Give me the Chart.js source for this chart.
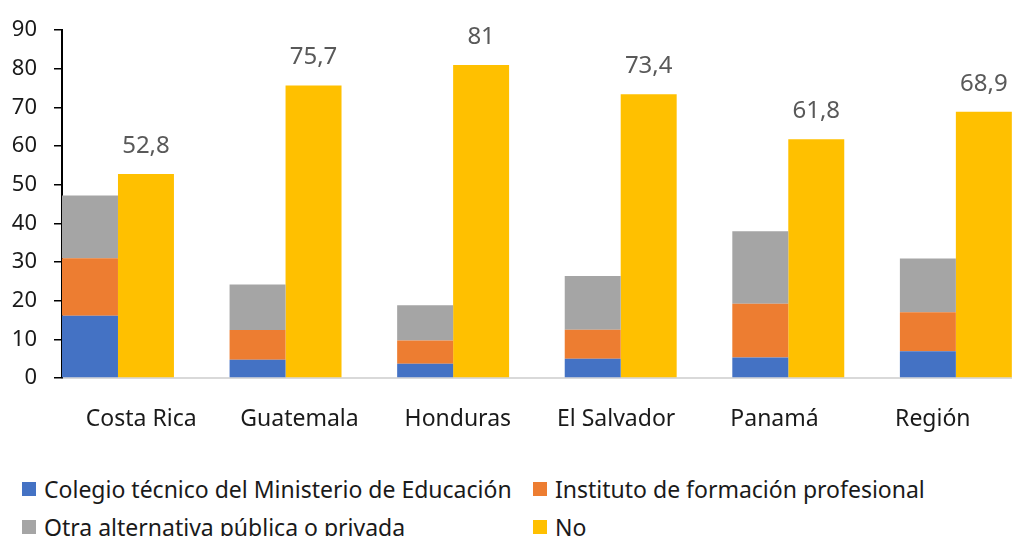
<!DOCTYPE html>
<html>
<head>
<meta charset="utf-8">
<script src="https://cdn.jsdelivr.net/npm/chart.js@4.4.1/dist/chart.umd.min.js"></script>
<style>
    html, body { margin: 0; padding: 0; background: #fff; overflow: hidden; }
    #wrap { position: relative; width: 1012px; height: 536px; }
    #chart-box { position: absolute; left: 0; top: 0; width: 1012px; height: 460px; }
    .legend-item {
        position: absolute; display: flex; align-items: center; height: 28px;
        font: 23px "Noto Sans", sans-serif; color: #1a1a1a; white-space: nowrap;
    }
    .legend-item .sw { width: 14px; height: 14px; margin-right: 8px; }
</style>
</head>
<body>
<div id="wrap">
    <div id="chart-box"><canvas id="mainChart"></canvas></div>
    <div id="legend"></div>
</div>
<script>
const countries = ['Costa Rica', 'Guatemala', 'Honduras', 'El Salvador', 'Panamá', 'Región'];
const colegioTecnico = [16.1, 4.7, 3.7, 5.0, 5.3, 6.9];
const institutoFormacion = [14.9, 7.7, 6.0, 7.5, 13.9, 10.1];
const otraAlternativa = [16.2, 11.8, 9.1, 13.9, 18.8, 13.9];
const noAsiste = [52.8, 75.7, 81, 73.4, 61.8, 68.9];
const yTicks = [0, 10, 20, 30, 40, 50, 60, 70, 80, 90];

const seriesNames = [
    'Colegio técnico del Ministerio de Educación',
    'Instituto de formación profesional',
    'Otra alternativa pública o privada',
    'No'
];
const seriesColors = ['#4472C4', '#ED7D31', '#A5A5A5', '#FFC000'];

const FONT = '"Noto Sans", sans-serif';

// bars sit on a hidden linear axis (category index as x)
function toPoints(values) {
    return values.map((v, i) => ({ x: i, y: v }));
}

function fmt(v) {
    return String(v).replace('.', ',');
}

// value labels above the "No" bars
const barValueLabels = {
    id: 'barValueLabels',
    afterDatasetsDraw(chart) {
        const idx = chart.data.datasets.findIndex(d => d.showValues);
        if (idx < 0) return;
        const meta = chart.getDatasetMeta(idx);
        const ctx = chart.ctx;
        ctx.save();
        ctx.font = `24px ${FONT}`;
        ctx.fillStyle = '#595959';
        ctx.textAlign = 'center';
        ctx.textBaseline = 'middle';
        meta.data.forEach((bar, i) => {
            ctx.fillText(fmt(noAsiste[i]), bar.x, bar.y - 28);
        });
        ctx.restore();
    }
};

function initChart() {
    const ctx = document.getElementById('mainChart').getContext('2d');
    const stacks = ['si', 'si', 'si', 'no'];
    const values = [colegioTecnico, institutoFormacion, otraAlternativa, noAsiste];

    new Chart(ctx, {
        type: 'bar',
        data: {
            labels: countries,
            datasets: values.map((vals, i) => ({
                label: seriesNames[i],
                data: toPoints(vals),
                backgroundColor: seriesColors[i],
                borderWidth: 0,
                stack: stacks[i],
                xAxisID: 'xb',
                yAxisID: 'y',
                categoryPercentage: 0.668,
                barPercentage: 1,
                showValues: i === 3
            }))
        },
        options: {
            responsive: true,
            maintainAspectRatio: false,
            animation: false,
            layout: { padding: { top: 28, left: 0, right: 0, bottom: 0 } },
            plugins: {
                legend: { display: false },
                tooltip: { enabled: false }
            },
            scales: {
                x: {
                    type: 'category',
                    position: 'bottom',
                    offset: true,
                    grid: { display: false, drawTicks: false },
                    border: { display: true, color: '#d9d9d9', width: 2 },
                    ticks: { color: '#1a1a1a', font: { family: FONT, size: 23 }, padding: 28, maxRotation: 0 },
                    afterFit: s => { s.height = 82; }
                },
                xb: {
                    type: 'linear',
                    display: false,
                    offset: false,
                    bounds: 'data',
                    min: -0.334,
                    max: 5.335,
                    afterBuildTicks: s => { s.ticks = countries.map((c, i) => ({ value: i })); },
                    grid: { offset: false }
                },
                y: {
                    stacked: true,
                    min: 0,
                    max: 90,
                    afterBuildTicks: s => { s.ticks = yTicks.map(v => ({ value: v })); },
                    grid: { drawOnChartArea: false, drawTicks: true, tickLength: 8, color: '#000', lineWidth: 1.5 },
                    border: { display: true, color: '#000', width: 2 },
                    ticks: { color: '#1a1a1a', font: { family: FONT, size: 22 }, padding: 17 },
                    afterFit: s => { s.width = 62; }
                }
            }
        },
        plugins: [barValueLabels]
    });
}

function buildLegend() {
    const box = document.getElementById('legend');
    const cols = [22, 533];
    const rows = [489, 527];
    seriesNames.forEach((name, i) => {
        const item = document.createElement('div');
        item.className = 'legend-item';
        item.style.left = cols[i % 2] + 'px';
        item.style.top = (rows[Math.floor(i / 2)] - 14) + 'px';
        item.innerHTML = `<span class="sw" style="background:${seriesColors[i]}"></span>${name}`;
        box.appendChild(item);
    });
}

document.addEventListener('DOMContentLoaded', () => {
    initChart();
    buildLegend();
});
</script>
</body>
</html>
